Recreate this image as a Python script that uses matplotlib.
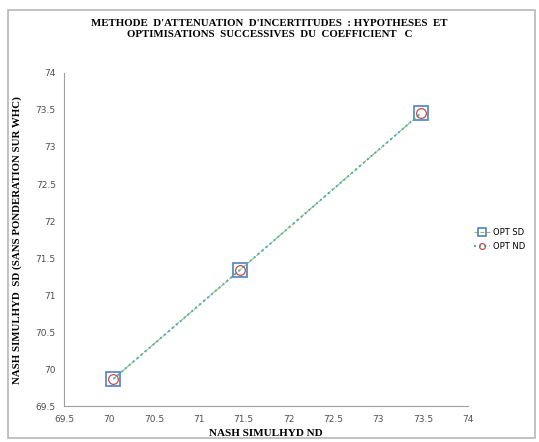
import matplotlib.pyplot as plt
from matplotlib.patches import Rectangle

# donnees
nash_nd = [70.05, 71.46, 73.48]
nash_sd = [69.87, 71.34, 73.46]
x_ticks = [69.5, 70, 70.5, 71, 71.5, 72, 72.5, 73, 73.5, 74]
y_ticks = [69.5, 70, 70.5, 71, 71.5, 72, 72.5, 73, 73.5, 74]

fig = plt.figure(figsize=(5.39, 4.42), dpi=100)
ax = fig.add_axes([0.119, 0.081, 0.749, 0.754])

# cadre du graphique
fig.patches.append(Rectangle((8 / 539, 4 / 442), 527 / 539, 428 / 442,
                             transform=fig.transFigure, fill=False,
                             edgecolor='#b8b8b8', lw=1.2))

ax.plot(nash_nd, nash_sd, ls='--', lw=0.8, color='#9bbb59',
        marker='s', ms=10, mfc='none', mec='#4f81bd', mew=1.2, label='OPT SD')
ax.plot(nash_nd, nash_sd, ls=':', lw=1.4, color='#4bacc6',
        marker='o', ms=7, mfc='none', mec='#c0504d', mew=0.9, label='OPT ND')

ax.set_xlim(69.5, 74)
ax.set_ylim(69.5, 74)
ax.set_xticks(x_ticks)
ax.set_yticks(y_ticks)
ax.set_xticklabels([f'{t:g}' for t in x_ticks])
ax.set_yticklabels([f'{t:g}' for t in y_ticks])
ax.tick_params(length=0, labelsize=6.5, colors='#505050', pad=6)
for s in ['top', 'right']:
    ax.spines[s].set_visible(False)
for s in ['left', 'bottom']:
    ax.spines[s].set_color('#a0a0a0')

ax.set_xlabel('NASH SIMULHYD ND', family='Liberation Serif',
              fontweight='bold', fontsize=8, labelpad=4)
ax.set_ylabel('NASH SIMULHYD  SD (SANS PONDERATION SUR WHC)',
              family='Liberation Serif', fontweight='bold', fontsize=7.8,
              labelpad=10)

fig.text(0.5, 0.935,
         "METHODE  D'ATTENUATION  D'INCERTITUDES  : HYPOTHESES  ET\n"
         "OPTIMISATIONS  SUCCESSIVES  DU  COEFFICIENT   C",
         ha='center', va='center', family='Liberation Serif',
         fontweight='bold', fontsize=7.8, linespacing=1.3)

ax.legend(loc='center left', bbox_to_anchor=(1.0, 0.5), frameon=False,
          fontsize=6, handlelength=2.0, handletextpad=0.3,
          labelspacing=0.6, markerscale=0.6, borderaxespad=0.3)

fig.savefig('out.png', dpi=100)
